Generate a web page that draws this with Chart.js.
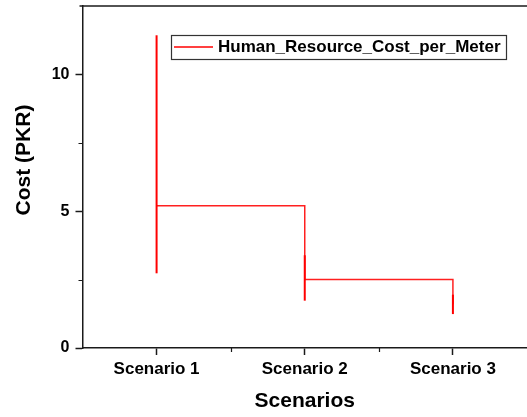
<!DOCTYPE html>
<html>
<head>
<meta charset="utf-8">
<script src="https://cdn.jsdelivr.net/npm/chart.js@4/dist/chart.umd.min.js"></script>
<style>
  html, body { margin: 0; padding: 0; background: #fff; }
  #wrap { width: 527px; height: 417px; }
</style>
</head>
<body>
<div id="wrap"><canvas id="c" width="527" height="417"></canvas></div>
<script>
// Scenario categories and the human resource cost per meter (PKR)
const scenarios = ['Scenario 1', 'Scenario 2', 'Scenario 3'];
const costPerMeter = [5.2, 2.5, 1.6];
// Lower and upper ends of the error bar at each scenario
const errLow = [2.73, 1.73, 1.24];
const errHigh = [11.43, 3.39, 1.95];
// Axis tick values
const yMajorTicks = [0, 5, 10];
const yMinorTicks = [2.5, 7.5];
const seriesName = 'Human_Resource_Cost_per_Meter';
const yTitle = 'Cost (PKR)';

const FONT = "'Liberation Sans', Arial, sans-serif";
const AXIS_COLOR = '#1a1a1a';

// Vertical error bars drawn through the chart scales
const errorBars = {
  id: 'errorBars',
  afterDatasetsDraw(chart) {
    const { ctx, scales: { x, y } } = chart;
    ctx.save();
    ctx.strokeStyle = '#ff0000';
    ctx.lineWidth = 2;
    scenarios.forEach((_, i) => {
      const px = x.getPixelForValue(i);
      ctx.beginPath();
      ctx.moveTo(px, y.getPixelForValue(errLow[i]));
      ctx.lineTo(px, y.getPixelForValue(errHigh[i]));
      ctx.stroke();
    });
    ctx.restore();
  }
};

// Top frame line, minor ticks, y-axis title and the boxed legend
const frameAndLegend = {
  id: 'frameAndLegend',
  afterDraw(chart) {
    const { ctx, chartArea: a, scales: { x, y } } = chart;
    ctx.save();
    ctx.strokeStyle = AXIS_COLOR;
    ctx.lineWidth = 1.5;
    ctx.beginPath();
    ctx.moveTo(a.left - 3, a.top);
    ctx.lineTo(a.right, a.top);
    ctx.stroke();

    // minor ticks
    ctx.lineWidth = 1.2;
    ctx.beginPath();
    yMinorTicks.forEach(v => {
      const py = Math.round(y.getPixelForValue(v)) + 0.5;
      ctx.moveTo(a.left, py);
      ctx.lineTo(a.left - 4, py);
    });
    for (let i = 0; i < scenarios.length - 1; i++) {
      const px = Math.round(x.getPixelForValue(i + 0.5)) + 0.5;
      ctx.moveTo(px, a.bottom);
      ctx.lineTo(px, a.bottom + 4);
    }
    ctx.stroke();

    // y-axis title
    ctx.save();
    ctx.translate(24, 160);
    ctx.rotate(-Math.PI / 2);
    ctx.fillStyle = '#000';
    ctx.font = 'bold 21px ' + FONT;
    ctx.textAlign = 'center';
    ctx.textBaseline = 'middle';
    ctx.fillText(yTitle, 0, 0);
    ctx.restore();

    // legend
    const lx = 171, ly = 35, lw = 335, lh = 24;
    ctx.fillStyle = '#fff';
    ctx.fillRect(lx, ly, lw, lh);
    ctx.strokeStyle = '#333';
    ctx.lineWidth = 1.2;
    ctx.strokeRect(lx + 0.5, ly + 0.5, lw, lh);
    ctx.strokeStyle = '#ff0000';
    ctx.lineWidth = 1.5;
    ctx.beginPath();
    ctx.moveTo(174, ly + 12);
    ctx.lineTo(213, ly + 12);
    ctx.stroke();
    ctx.fillStyle = '#000';
    ctx.font = 'bold 17px ' + FONT;
    ctx.textBaseline = 'middle';
    ctx.textAlign = 'left';
    ctx.fillText(seriesName, 218, ly + 12.5);
    ctx.restore();
  }
};

new Chart(document.getElementById('c'), {
  type: 'line',
  data: {
    labels: scenarios,
    datasets: [{
      label: seriesName,
      data: costPerMeter,
      stepped: 'before',
      borderColor: '#ff2020',
      borderWidth: 1.5,
      pointRadius: 0,
      fill: false
    }]
  },
  options: {
    responsive: false,
    animation: false,
    devicePixelRatio: 1,
    layout: { padding: { top: 6, right: 0, left: 0, bottom: 0 } },
    plugins: { legend: { display: false }, tooltip: { enabled: false } },
    scales: {
      x: {
        type: 'category',
        offset: true,
        afterFit(s) {
          s.height = 69;
          s.paddingLeft = 0; s.paddingRight = 0;
        },
        grid: {
          offset: false,
          drawOnChartArea: false,
          drawTicks: true,
          tickLength: 7,
          tickWidth: 1.5,
          tickColor: AXIS_COLOR
        },
        border: { display: true, color: AXIS_COLOR, width: 1.5 },
        ticks: {
          color: '#000',
          padding: 4,
          maxRotation: 0,
          font: { family: FONT, size: 17, weight: 'bold' }
        },
        title: {
          display: true,
          text: 'Scenarios',
          color: '#000',
          padding: { top: 0, bottom: 3 },
          font: { family: FONT, size: 21, weight: 'bold', lineHeight: 1.2 }
        }
      },
      y: {
        type: 'linear',
        min: 0,
        max: 12.5,
        afterFit(s) {
          s.width = 82.5;
          s.paddingTop = 0; s.paddingBottom = 0;
        },
        afterBuildTicks(s) { s.ticks = yMajorTicks.map(v => ({ value: v })); },
        grid: {
          drawOnChartArea: false,
          drawTicks: true,
          tickLength: 7,
          tickWidth: 1.5,
          tickColor: AXIS_COLOR
        },
        border: { display: true, color: AXIS_COLOR, width: 1.5 },
        ticks: {
          color: '#000',
          padding: 6,
          font: { family: FONT, size: 16, weight: 'bold' }
        }
      }
    }
  },
  plugins: [errorBars, frameAndLegend]
});
</script>
</body>
</html>
